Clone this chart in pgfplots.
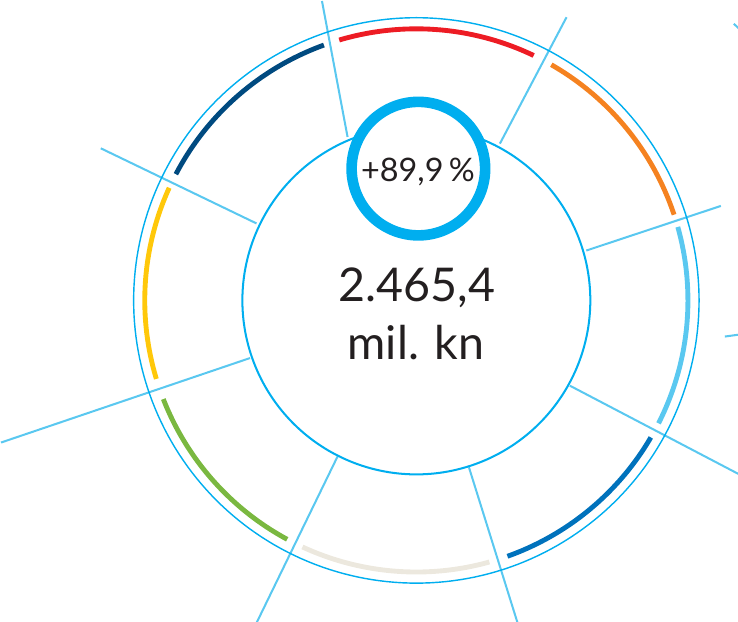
\documentclass[border=0pt]{standalone}
\usepackage{fontspec}
\setmainfont{Lato}
\usepackage{pgfplots}
\pgfplotsset{compat=1.18}
\definecolor{cyanline}{RGB}{0,174,239}
\definecolor{lline}{RGB}{90,200,240}
\definecolor{cred}{RGB}{237,28,36}
\definecolor{corange}{RGB}{245,130,32}
\definecolor{clblue}{RGB}{90,200,240}
\definecolor{cmblue}{RGB}{0,114,188}
\definecolor{cbeige}{RGB}{236,232,222}
\definecolor{cgreen}{RGB}{122,184,64}
\definecolor{cyellow}{RGB}{255,200,10}
\definecolor{cnavy}{RGB}{0,74,128}
\definecolor{ctext}{RGB}{35,31,32}
\newcommand{\seg}[3]{\addplot[#1, line width=4.8pt, domain=#2:#3, samples=60, variable=\t] ({420+268.5*cos(\t)},{317+268.5*sin(\t)});}
\begin{document}
\begin{tikzpicture}
\begin{axis}[scale only axis, width=738pt, height=629pt,
  xmin=0, xmax=738, ymin=0, ymax=629, hide axis, clip=true]
% light radial lines
\addplot[lline, line width=2pt] coordinates {(326.7,613) (352,478.6)};
\addplot[lline, line width=2pt] coordinates {(568.5,597) (502.6,472)};
\addplot[lline, line width=2pt] coordinates {(721,410.4) (588,366.3)};
\addplot[lline, line width=2pt] coordinates {(571.8,232.7) (745,142)};
\addplot[lline, line width=2pt] coordinates {(472,152) (522,-8)};
\addplot[lline, line width=2pt] coordinates {(342,162.5) (259,-8)};
\addplot[lline, line width=2pt] coordinates {(255.5,260) (9.4,176.5)};
\addplot[lline, line width=2pt] coordinates {(262,393.1) (108,467.4)};
\addplot[lline, line width=2pt] coordinates {(733.8,590.5) (742,583)};
\addplot[lline, line width=2pt] coordinates {(725,281.3) (745,284)};
% outer thin circle
\addplot[cyanline, line width=1.4pt, domain=0:360, samples=241, variable=\t] ({420+279.5*cos(\t)},{317+279.5*sin(\t)});
% coloured segments
\seg{cred}{64.4}{106.5}
\seg{corange}{18.4}{60.2}
\seg{clblue}{-26.9}{15.7}
\seg{cmblue}{-70.4}{-30.3}
\seg{cbeige}{-114.8}{-74.4}
\seg{cgreen}{-158.7}{-118.4}
\seg{cyellow}{155.5}{196.8}
\seg{cnavy}{109.9}{152.3}
% inner circle
\addplot[cyanline, line width=2pt, domain=0:360, samples=241, variable=\t] ({420+172*cos(\t)},{317+172*sin(\t)});
% small circle
\addplot[cyanline, fill=white, line width=10.5pt, domain=0:360, samples=181, variable=\t] ({422+66*cos(\t)},{447.3+66*sin(\t)}) -- cycle;
\node[anchor=base, text=ctext, font=\fontsize{32}{32}\selectfont] at (axis cs:421.7,435) {+89,9\,\%};
\node[anchor=base, text=ctext, font=\fontsize{46}{46}\selectfont] at (axis cs:420.5,315.7) {2.465,4};
\node[anchor=base, text=ctext, font=\fontsize{46}{46}\selectfont] at (axis cs:419.7,259) {mil. kn};
\end{axis}
\end{tikzpicture}
\end{document}
